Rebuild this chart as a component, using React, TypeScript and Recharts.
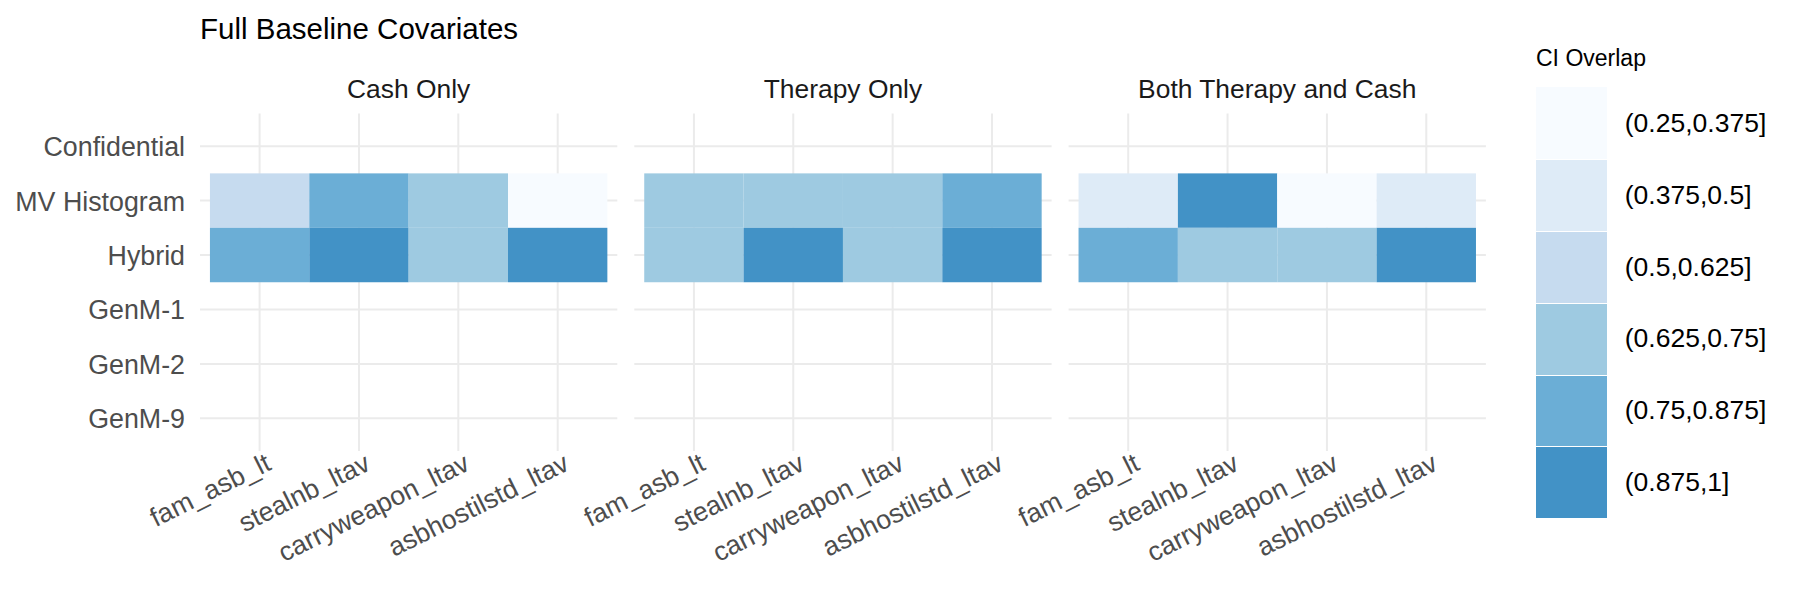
import React from 'react';
import { ScatterChart, Scatter, XAxis, YAxis, CartesianGrid } from 'recharts';

const panels = ['Cash Only', 'Therapy Only', 'Both Therapy and Cash'];
// top to bottom, as drawn
const methods = ['Confidential', 'MV Histogram', 'Hybrid', 'GenM-1', 'GenM-2', 'GenM-9'];
const covariates = ['fam_asb_lt', 'stealnb_ltav', 'carryweapon_ltav', 'asbhostilstd_ltav'];

const overlapBins = ['(0.25,0.375]', '(0.375,0.5]', '(0.5,0.625]', '(0.625,0.75]', '(0.75,0.875]', '(0.875,1]'];
const binColors = ['#F7FBFF', '#DEEBF7', '#C6DBEF', '#9ECAE1', '#6BAED6', '#4292C6'];

// CI overlap bin for each covariate (same order as covariates)
const cashMV = ['(0.5,0.625]', '(0.75,0.875]', '(0.625,0.75]', '(0.25,0.375]'];
const cashHybrid = ['(0.75,0.875]', '(0.875,1]', '(0.625,0.75]', '(0.875,1]'];
const therapyMV = ['(0.625,0.75]', '(0.625,0.75]', '(0.625,0.75]', '(0.75,0.875]'];
const therapyHybrid = ['(0.625,0.75]', '(0.875,1]', '(0.625,0.75]', '(0.875,1]'];
const bothMV = ['(0.375,0.5]', '(0.875,1]', '(0.25,0.375]', '(0.375,0.5]'];
const bothHybrid = ['(0.75,0.875]', '(0.625,0.75]', '(0.625,0.75]', '(0.875,1]'];

const panelValues: Record<string, string[]>[] = [
  { 'MV Histogram': cashMV, Hybrid: cashHybrid },
  { 'MV Histogram': therapyMV, Hybrid: therapyHybrid },
  { 'MV Histogram': bothMV, Hybrid: bothHybrid },
];

const W = 1800;
const H = 600;
const PANEL_W = 417.3;
const PANEL_LEFT = [200, 634.3, 1068.6];
const PLOT_TOP = 113.5;
const PLOT_H = 337.5;
const X_DOMAIN: [number, number] = [0.4, covariates.length + 0.6];
const Y_DOMAIN: [number, number] = [0.4, methods.length + 0.6];
const LABEL_ANGLE = 26.5;

const FONT = '"Liberation Sans", Arial, Helvetica, sans-serif';

function buildCells(values: Record<string, string[]>) {
  const cells: { x: number; y: number; bin: string }[] = [];
  methods.forEach((m, mi) => {
    const row = values[m];
    if (!row) return;
    row.forEach((bin, ci) => {
      cells.push({ x: ci + 1, y: methods.length - mi, bin });
    });
  });
  return cells;
}

const Tile = (props: any) => {
  const { cx, cy, payload } = props;
  const w = PANEL_W / (X_DOMAIN[1] - X_DOMAIN[0]);
  const h = PLOT_H / (Y_DOMAIN[1] - Y_DOMAIN[0]);
  return (
    <rect
      x={cx - w / 2}
      y={cy - h / 2}
      width={w}
      height={h}
      fill={binColors[overlapBins.indexOf(payload.bin)]}
    />
  );
};

const XTick = (props: any) => {
  const { x, y, payload } = props;
  const ax = x + 4.5;
  return (
    <text
      x={ax}
      y={y}
      dy="0.71em"
      textAnchor="end"
      transform={`rotate(-${LABEL_ANGLE} ${ax} ${y})`}
      fill="#4D4D4D"
      fontSize={26.7}
      fontFamily={FONT}
    >
      {covariates[payload.value - 1]}
    </text>
  );
};

const YTick = (props: any) => {
  const { x, y, payload } = props;
  return (
    <text x={x} y={y} dy="0.37em" textAnchor="end" fill="#4D4D4D" fontSize={26.8} fontFamily={FONT}>
      {methods[methods.length - payload.value]}
    </text>
  );
};

function Panel({ index }: { index: number }) {
  const left = PANEL_LEFT[index];
  const first = index === 0;
  return (
    <div style={{ position: 'absolute', left: 0, top: 0 }}>
      <ScatterChart
        width={W}
        height={H}
        margin={{ top: PLOT_TOP, left: first ? 0 : left, right: W - left - PANEL_W, bottom: 0 }}
      >
        <CartesianGrid stroke="#EBEBEB" strokeWidth={2} syncWithTicks />
        <XAxis
          type="number"
          dataKey="x"
          domain={X_DOMAIN}
          ticks={covariates.map((_, i) => i + 1)}
          interval={0}
          height={H - PLOT_TOP - PLOT_H}
          axisLine={false}
          tickLine={false}
          tickSize={0}
          tickMargin={1}
          tick={<XTick />}
        />
        <YAxis
          type="number"
          dataKey="y"
          domain={Y_DOMAIN}
          ticks={methods.map((_, i) => i + 1)}
          interval={0}
          width={first ? left : 0}
          hide={!first}
          axisLine={false}
          tickLine={false}
          tickSize={0}
          tickMargin={15}
          tick={<YTick />}
        />
        <Scatter data={buildCells(panelValues[index])} shape={<Tile />} isAnimationActive={false} />
      </ScatterChart>
      <div
        style={{
          position: 'absolute',
          left,
          width: PANEL_W,
          top: 76,
          textAlign: 'center',
          fontFamily: FONT,
          fontSize: 26.4,
          lineHeight: 1,
          color: '#1A1A1A',
          whiteSpace: 'nowrap',
        }}
      >
        {panels[index]}
      </div>
    </div>
  );
}

function LegendBox() {
  return (
    <div style={{ position: 'absolute', left: 1536, top: 0, fontFamily: FONT }}>
      <div style={{ position: 'absolute', top: 47.2, left: 0, fontSize: 23, lineHeight: 1, color: '#000', whiteSpace: 'nowrap' }}>
        CI Overlap
      </div>
      <div style={{ position: 'absolute', top: 87.3, left: 0 }}>
        {overlapBins.map((bin, i) => (
          <div key={bin} style={{ display: 'flex', alignItems: 'center', height: 71.83 }}>
            <div
              style={{
                width: 71.3,
                height: 71.83,
                background: binColors[i],
                boxSizing: 'border-box',
                borderTop: i > 0 ? '1px solid #FFFFFF' : 'none',
              }}
            />
            <span style={{ marginLeft: 17.5, fontSize: 26.5, lineHeight: 1, color: '#000', whiteSpace: 'nowrap' }}>
              {bin}
            </span>
          </div>
        ))}
      </div>
    </div>
  );
}

export default function App() {
  return (
    <div style={{ position: 'absolute', left: 0, top: 0, width: W, height: H, background: '#fff', overflow: 'hidden' }}>
      <div
        style={{
          position: 'absolute',
          left: 200,
          top: 14,
          fontFamily: FONT,
          fontSize: 29.5,
          lineHeight: 1,
          color: '#000',
          whiteSpace: 'nowrap',
        }}
      >
        Full Baseline Covariates
      </div>
      {panels.map((p, i) => (
        <Panel key={p} index={i} />
      ))}
      <LegendBox />
    </div>
  );
}
